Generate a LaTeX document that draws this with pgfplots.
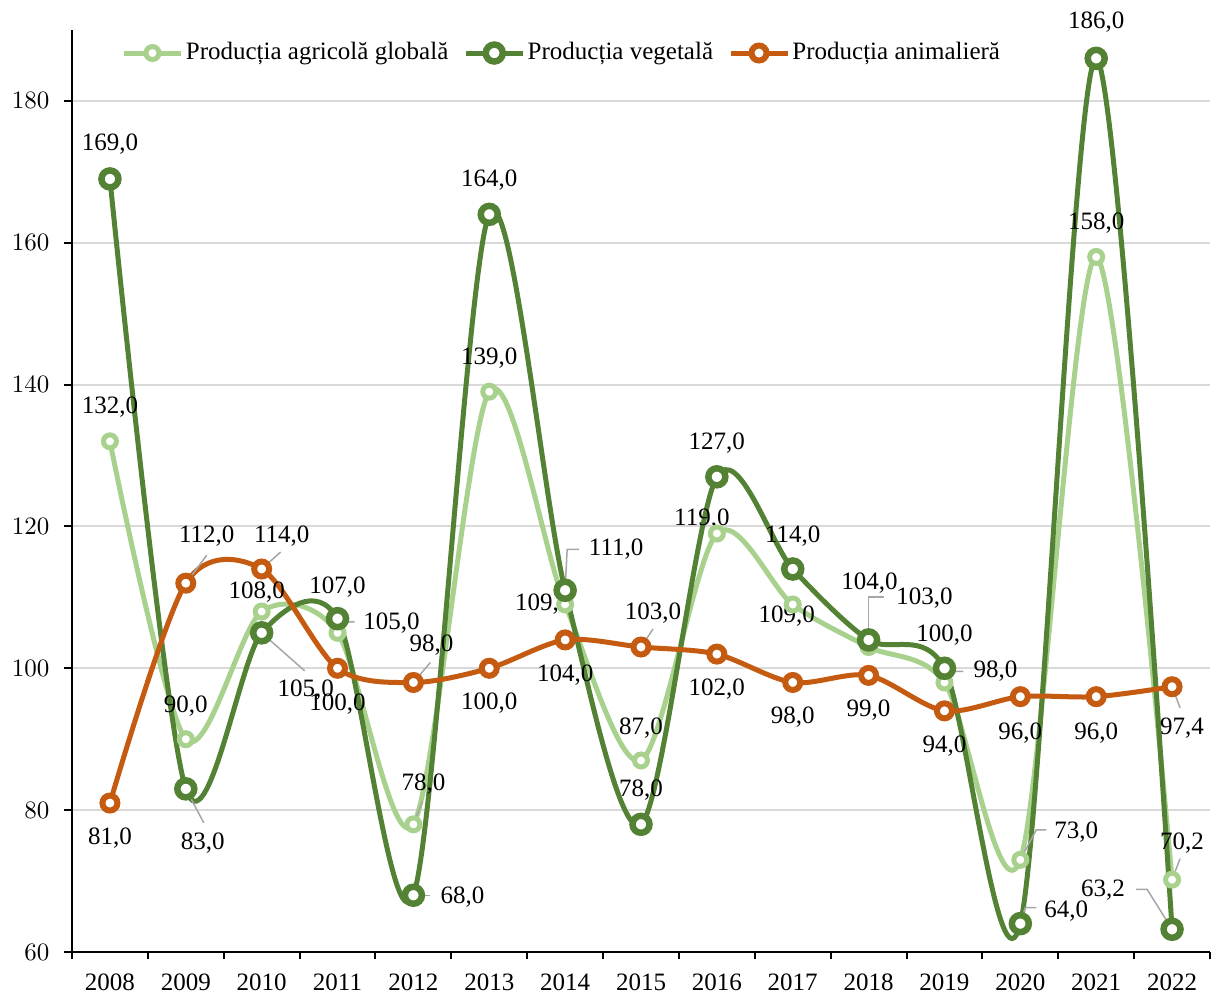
\documentclass[border=0pt]{standalone}
\usepackage{fontspec}
\setmainfont{Liberation Serif}
\usepackage{pgfplots}
\pgfplotsset{compat=1.18}
\definecolor{cG}{RGB}{169,209,142}
\definecolor{cV}{RGB}{84,130,53}
\definecolor{cA}{RGB}{197,90,17}
\definecolor{cGrid}{RGB}{217,217,217}
\definecolor{cLead}{RGB}{166,166,166}
\newcommand{\lbl}[5]{\node[inner sep=0pt, font=\fontsize{10}{12}\selectfont, xshift={(#3)*0.4pt}, yshift={-(#4)*0.4pt}] at (axis cs:#1,#2) {#5};}
\newcommand{\ldr}[2]{\draw[cLead, line width=0.6pt] (axis cs:#1) #2;}
\begin{document}
\begin{tikzpicture}
\begin{axis}[
  name=ax,
  scale only axis, width=455.2pt, height=368.8pt,
  xmin=-0.5, xmax=14.5, ymin=60, ymax=190,
  clip=false,
  axis x line*=bottom, axis y line*=left,
  axis line style={line width=0.8pt, black, -},
  xtick={0,...,14},
  xticklabels={2008,2009,2010,2011,2012,2013,2014,2015,2016,2017,2018,2019,2020,2021,2022},
  minor xtick={-0.5,0.5,...,14.5},
  ytick={60,80,...,180},
  ymajorgrids, grid style={cGrid, line width=0.8pt},
  tick align=outside,
  major tick length=3pt, minor tick length=3pt,
  major x tick style={draw=none},
  minor x tick style={draw=black, line width=0.8pt},
  ytick style={draw=black, line width=0.8pt},
  tick label style={font=\fontsize{10}{12}\selectfont},
  xticklabel style={inner sep=1pt, yshift=-4.6pt},
  yticklabel style={xshift=-2.5pt},
  legend style={at={(0.4306,0.975)}, anchor=center, draw=none, fill=none,
    font=\fontsize{10}{12}\selectfont, inner sep=0pt,
    nodes={inner sep=1pt},
    /tikz/every even column/.append style={column sep=5pt}},
  legend columns=3,
  legend image code/.code={\draw[mark repeat=2,mark phase=2] plot coordinates {(0cm,0cm)(0.4cm,0cm)(0.8cm,0cm)};},
]
\addplot[cG, line width=2pt, smooth, tension=0.5, mark=*, mark size=2.6pt,
  mark options={fill=white, draw=cG, line width=2pt}] coordinates {
 (0,132) (1,90) (2,108) (3,105) (4,78) (5,139) (6,109) (7,87) (8,119) (9,109) (10,103) (11,98) (12,73) (13,158) (14,70.2)};
\addlegendentry{Producția agricolă globală}
\addplot[cV, line width=2pt, smooth, tension=0.5, mark=*, mark size=3.4pt,
  mark options={fill=white, draw=cV, line width=2.6pt}] coordinates {
 (0,169) (1,83) (2,105) (3,107) (4,68) (5,164) (6,111) (7,78) (8,127) (9,114) (10,104) (11,100) (12,64) (13,186) (14,63.2)};
\addlegendentry{Producția vegetală}
\addplot[cA, line width=2pt, smooth, tension=0.5, mark=*, mark size=3.0pt,
  mark options={fill=white, draw=cA, line width=2.4pt}] coordinates {
 (0,81) (1,112) (2,114) (3,100) (4,98) (5,100) (6,104) (7,103) (8,102) (9,98) (10,99) (11,94) (12,96) (13,96) (14,97.4)};
\addlegendentry{Producția animalieră}
% leader lines
\ldr{1,112}{-- ++(8.4pt,11.2pt)}
\ldr{2,114}{-- ++(7.6pt,6.8pt)}
\ldr{3,105}{-- ++(2pt,4.4pt) -- ++(4.8pt,0pt)}
\ldr{2,105}{-- ++(17.2pt,-15.2pt)}
\ldr{4,98}{-- ++(6.8pt,8pt)}
\ldr{6,111}{-- ++(0.8pt,16.4pt) -- ++(4.8pt,0pt)}
\ldr{7,103}{-- ++(4.8pt,7.2pt)}
\ldr{10,104}{-- ++(0pt,17.2pt) -- ++(6pt,0pt)}
\ldr{11,98}{-- ++(3.6pt,4.4pt) -- ++(4pt,0pt)}
\ldr{14,97.4}{-- ++(3.2pt,-8.4pt)}
\ldr{12,73}{-- ++(6.4pt,12pt) -- ++(4pt,0pt)}
\ldr{12,64}{-- ++(2pt,6.4pt) -- ++(4.4pt,0pt)}
\ldr{14,70.2}{-- ++(3.2pt,8.4pt)}
\ldr{14,63.2}{-- ++(-10pt,16pt) -- ++(-4.4pt,0pt)}
\ldr{1,83}{-- ++(7.2pt,-13.6pt)}
\ldr{4,68}{-- ++(6.8pt,0pt)}
\ldr{4,78}{-- ++(3.6pt,9.2pt)}
% global labels
\lbl{0}{132}{0}{-34}{132,0}
\lbl{1}{90}{0}{-33}{90,0}
\lbl{2}{108}{-5}{-19}{108,0}
\lbl{3}{105}{54}{-10}{105,0}
\lbl{4}{78}{10}{-40}{78,0}
\lbl{5}{139}{0}{-34}{139,0}
\lbl{6}{109}{-22}{0}{109,0}
\lbl{7}{87}{0}{-32}{87,0}
\lbl{8}{119}{-15}{-14}{119,0}
\lbl{9}{109}{-6}{12}{109,0}
\lbl{10}{103}{56}{-49}{103,0}
\lbl{11}{98}{51}{-11}{98,0}
\lbl{12}{73}{56}{-28}{73,0}
\lbl{13}{158}{0}{-34}{158,0}
\lbl{14}{70.2}{10}{-37}{70,2}
% vegetal labels
\lbl{0}{169}{0}{-35}{169,0}
\lbl{1}{83}{17}{54}{83,0}
\lbl{2}{105}{44}{57}{105,0}
\lbl{3}{107}{0}{-32}{107,0}
\lbl{4}{68}{49}{2}{68,0}
\lbl{5}{164}{0}{-34}{164,0}
\lbl{6}{111}{51}{-41}{111,0}
\lbl{7}{78}{0}{-34}{78,0}
\lbl{8}{127}{0}{-34}{127,0}
\lbl{9}{114}{0}{-33}{114,0}
\lbl{10}{104}{1}{-57}{104,0}
\lbl{11}{100}{0}{-33}{100,0}
\lbl{12}{64}{46}{-13}{64,0}
\lbl{13}{186}{0}{-36}{186,0}
\lbl{14}{63.2}{-69}{-39}{63,2}
% animal labels
\lbl{0}{81}{0}{35}{81,0}
\lbl{1}{112}{21}{-47}{112,0}
\lbl{2}{114}{20}{-33}{114,0}
\lbl{3}{100}{0}{36}{100,0}
\lbl{4}{98}{18}{-37}{98,0}
\lbl{5}{100}{0}{35}{100,0}
\lbl{6}{104}{0}{35}{104,0}
\lbl{7}{103}{12}{-34}{103,0}
\lbl{8}{102}{0}{35}{102,0}
\lbl{9}{98}{0}{35}{98,0}
\lbl{10}{99}{0}{35}{99,0}
\lbl{11}{94}{0}{35}{94,0}
\lbl{12}{96}{0}{36}{96,0}
\lbl{13}{96}{0}{36}{96,0}
\lbl{14}{97.4}{10}{41}{97,4}
\end{axis}
\pgfresetboundingbox
\useasboundingbox ([shift={(-28.8pt,-16.8pt)}]ax.south west) rectangle ([shift={(0.4pt,12pt)}]ax.north east);
\end{tikzpicture}
\end{document}
